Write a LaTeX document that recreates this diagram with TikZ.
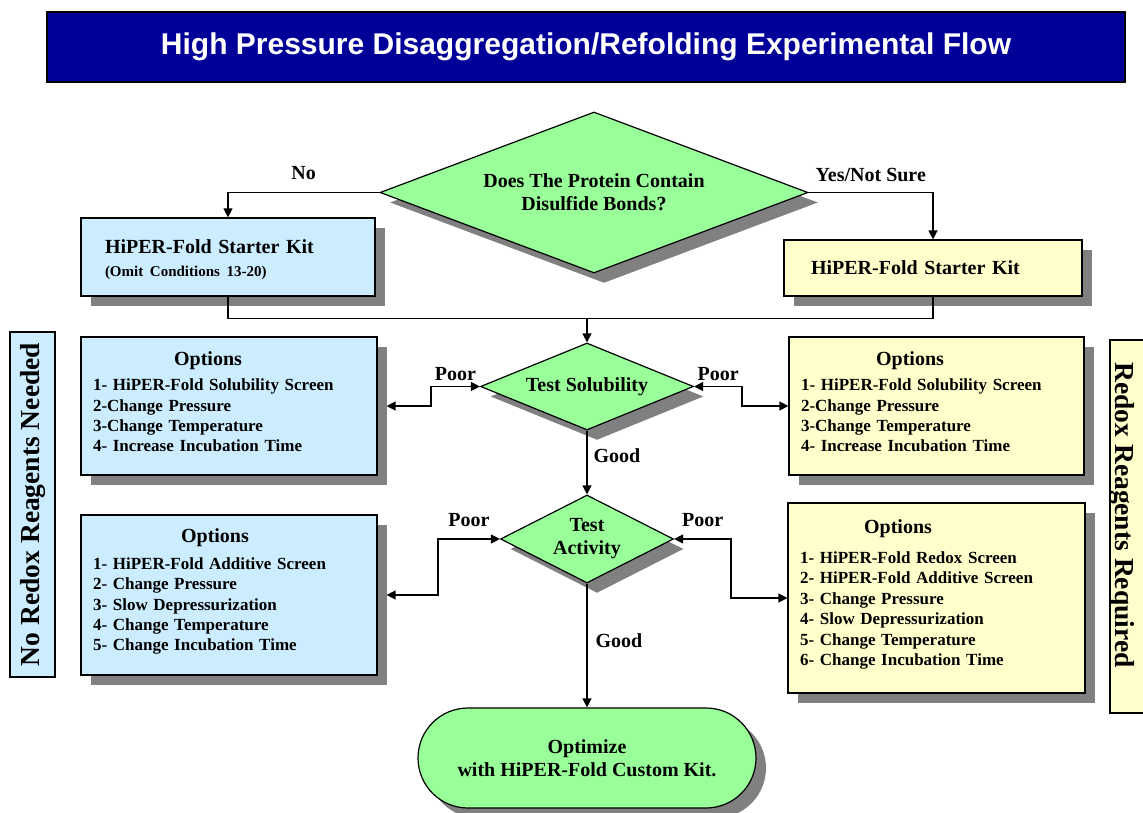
\documentclass[tikz,border=0pt]{standalone}
\usepackage{fontspec}
\setmainfont{Liberation Serif}
\newfontfamily\titlesans{Liberation Sans}
\usepackage{tikz}
\usetikzlibrary{shapes.geometric,shadows,calc,positioning,arrows.meta}

\definecolor{titleblue}{HTML}{000099}
\definecolor{noredox}{HTML}{CCECFF}
\definecolor{redox}{HTML}{FFFFCC}
\definecolor{testgreen}{HTML}{99FF99}
\definecolor{shadowgray}{HTML}{808080}

\newcommand{\lblsize}{\fontsize{20}{23}\selectfont\bfseries}
\newcommand{\optsize}{\fontsize{17}{20.4}\selectfont\bfseries}
\newcommand{\optshead}{\fontsize{20}{23}\selectfont Options}
% extra (or less) room under the text of a box
\newcommand{\padbottom}[1]{\par\vskip#1\hrule height0pt width0pt\relax}

\tikzset{
  boxshadow/.style={drop shadow={shadow xshift=10pt,shadow yshift=-10pt,fill=shadowgray,opacity=1}},
  kitbox/.style={rectangle, draw, line width=1.2pt, boxshadow, align=left, font=\lblsize},
  optbox/.style={rectangle, draw, line width=1.2pt, boxshadow, align=left, inner xsep=12pt, font=\optsize},
  decision/.style={diamond, draw, line width=1.2pt, fill=testgreen, boxshadow, align=center, inner sep=0pt, font=\lblsize},
  sidebar/.style={rectangle, draw, line width=1.2pt, font=\fontsize{27.5}{31}\selectfont\bfseries},
  lbl/.style={font=\lblsize, inner sep=2pt},
  flow/.style={line width=1.3pt},
  arr/.style={flow, -{Triangle[length=9pt,width=9pt]}},
  dbl/.style={flow, {Triangle[length=9pt,width=9pt]}-{Triangle[length=9pt,width=9pt]}},
}

\begin{document}
\begin{tikzpicture}[x=1pt,y=-1pt]
\useasboundingbox (0,0) rectangle (1143,813);
\clip (0,0) rectangle (1143,813);
% title bar
\node[draw, line width=2.5pt, fill=titleblue, text=white, minimum width=1078pt, minimum height=70pt,
  font=\titlesans\bfseries\fontsize{30}{34}\selectfont] (title) at (586,47)
  {High Pressure Disaggregation/Refolding Experimental Flow};

% side bars
\node[sidebar, fill=noredox, rotate=90, minimum width=345pt, minimum height=45pt] (noside) at (32.5,504.5) {No Redox Reagents Needed};
\node[sidebar, fill=redox, minimum width=60pt, minimum height=373pt] (redoxside) at (1140,526.5) {};
\node[sidebar, draw=none, rotate=-90] (redoxtxt) at (1122,515) {Redox Reagents Required};

% first question and starter kits
\node[decision, aspect=2.66, minimum width=428pt, minimum height=161pt] (disulf) at (594,192.5) {Does The Protein Contain\\Disulfide Bonds?};
\node[kitbox, fill=noredox, text width=246pt, inner xsep=24pt, minimum height=78pt] (kitno) at (228,257)
  {HiPER-Fold Starter Kit\\{\fontsize{15}{18}\selectfont (Omit Conditions 13-20)}\padbottom{-6pt}};
\node[kitbox, fill=redox, text width=244pt, inner xsep=27pt, minimum height=56pt] (kityes) at (933,268) {HiPER-Fold Starter Kit\padbottom{-4pt}};

% tests
\node[decision, aspect=2.45, minimum width=213pt, minimum height=87pt] (solub) at (587,386.5) {Test Solubility};
\node[decision, aspect=1.97, minimum width=173pt, minimum height=88pt] (activ) at (587,539) {Test\\Activity};
\node[rectangle, rounded corners=50pt, draw, line width=1.2pt, fill=testgreen, boxshadow, align=center, font=\lblsize,
  minimum width=338pt, minimum height=100pt] (custom) at (587,758) {Optimize\\with HiPER-Fold Custom Kit.};

% option boxes
\node[optbox, fill=noredox, text width=272pt, minimum height=138pt] (optsol) at (229,406)
  {\makebox[230pt]{\optshead}\\[4.5pt]1- HiPER-Fold Solubility Screen\\2-Change Pressure\\3-Change Temperature\\4- Increase Incubation Time\padbottom{8pt}};
\node[optbox, fill=noredox, text width=272pt, minimum height=160pt] (optact) at (229,595)
  {\makebox[244pt]{\optshead}\\[6.5pt]1- HiPER-Fold Additive Screen\\2- Change Pressure\\3- Slow Depressurization\\4- Change Temperature\\5- Change Incubation Time\padbottom{7pt}};
\node[optbox, fill=redox, text width=271pt, minimum height=138pt] (optsolR) at (936.5,406)
  {\makebox[218pt]{\optshead}\\[4.5pt]1- HiPER-Fold Solubility Screen\\2-Change Pressure\\3-Change Temperature\\4- Increase Incubation Time\padbottom{8pt}};
\node[optbox, fill=redox, text width=273pt, minimum height=190pt] (optactR) at (936.5,598)
  {\makebox[196pt]{\optshead}\\[9.5pt]1- HiPER-Fold Redox Screen\\2- HiPER-Fold Additive Screen\\3- Change Pressure\\4- Slow Depressurization\\5- Change Temperature\\6- Change Incubation Time\padbottom{7pt}};

% connectors
\draw[arr] (disulf.west) -| node[lbl, pos=0.25, above=10pt] (lblno) {No} (kitno.north);
\draw[arr] (disulf.east) -| node[lbl, pos=0.25, above=8pt] (lblyes) {Yes/Not Sure} (kityes.north);
\coordinate (merge) at ($(solub.north)+(0,-24)$);
\draw[flow] (kitno.south) |- (merge) -| (kityes.south);
\draw[arr] (merge) -- (solub.north);

\draw[dbl] (solub.west) -- node[lbl, above=3pt] (lblpoor1) {Poor} ++(-49,0) |- ($(optsol.east)+(9,0)$);
\draw[dbl] (solub.east) -- node[lbl, above=3pt] (lblpoor2) {Poor} ++(48,0) |- (optsolR.west);
\draw[dbl] (activ.west) -- node[lbl, above=10pt] (lblpoor3) {Poor} ++(-62,0) |- ($(optact.east)+(9,0)$);
\draw[dbl] (activ.east) -- node[lbl, above=10pt] (lblpoor4) {Poor} ++(57,0) |- (optactR.west);

\draw[arr] (solub.south) -- node[lbl, pos=0.4, right=4pt] (lblgood1) {Good} (activ.north);
\draw[arr] (activ.south) -- node[lbl, pos=0.46, right=6pt] (lblgood2) {Good} (custom.north);
\end{tikzpicture}
\end{document}
